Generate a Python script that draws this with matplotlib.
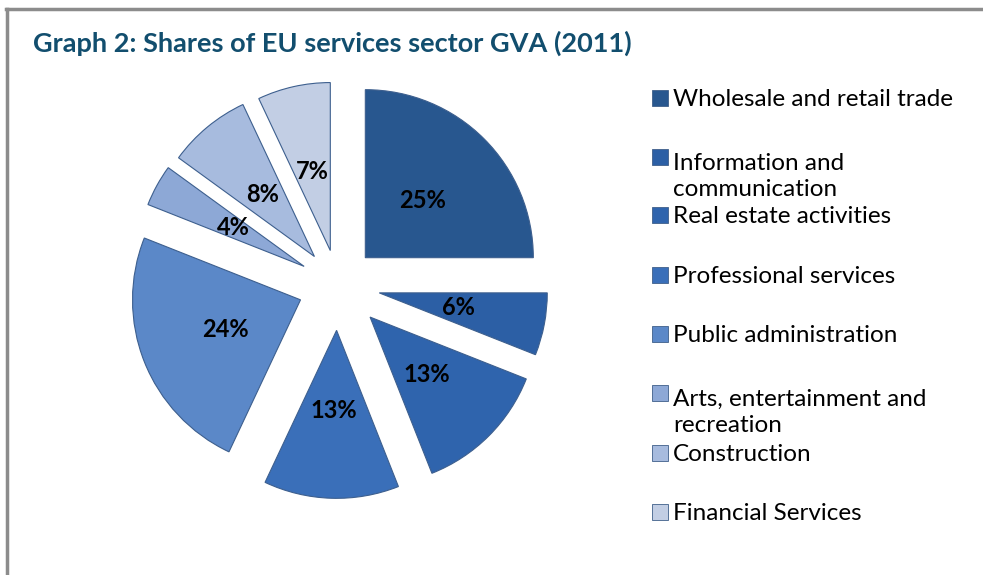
import matplotlib
matplotlib.use("Agg")
import matplotlib.pyplot as plt
from matplotlib.patches import Rectangle
from matplotlib.lines import Line2D

categories = ["Wholesale and retail trade", "Information and\ncommunication",
              "Real estate activities", "Professional services",
              "Public administration", "Arts, entertainment and\nrecreation",
              "Construction", "Financial Services"]
shares = [25, 6, 13, 13, 24, 4, 8, 7]
colors = ["#28578F", "#2C5FA5", "#2F64AD", "#3A6FB9", "#5B88C8", "#8DA8D6", "#A7BBDE", "#C2CEE4"]
explode_frac = [0.23, 0.25, 0.27, 0.27, 0.24, 0.23, 0.22, 0.21]

W, H = 983, 575
fig = plt.figure(figsize=(W / 100, H / 100), dpi=100)
ax = fig.add_axes([0, 0, 1, 1])

R = 168
cx, cy = 338, H - 285
wedges, texts, autotexts = ax.pie(
    shares, colors=colors, explode=[e * R for e in explode_frac], startangle=90,
    counterclock=False, radius=R, center=(cx, cy), frame=True, autopct="%d%%",
    pctdistance=0.48,
    wedgeprops=dict(edgecolor="#3D5F8E", linewidth=0.8),
    textprops=dict(fontsize=17, fontweight="bold", color="black", family="Lato"))
ax.set_xlim(0, W)
ax.set_ylim(0, H)
ax.set_aspect("equal")
ax.axis("off")

# frame lines (top and left)
ax.add_line(Line2D([6, W], [H - 9, H - 9], color="#8C8C8C", lw=2.5))
ax.add_line(Line2D([7, 7], [0, H - 9], color="#8C8C8C", lw=2.5))

# title
ax.text(33, H - 52, "Graph 2: Shares of EU services sector GVA (2011)",
        fontsize=19.5, fontweight="bold", color="#124E6E",
        family=["Liberation Sans Narrow", "DejaVu Sans Condensed", "Lato"],
        va="baseline", ha="left")

# legend
ys = [98, 157, 215, 275, 334, 393, 453, 512]
line_px = 1.27 * 17.5 * 100 / 72
for y, lab, col in zip(ys, categories, colors):
    ax.add_patch(Rectangle((652, H - y - 8), 16, 16, facecolor=col,
                           edgecolor="#3F5F8A", lw=0.6))
    n_extra = lab.count("\n")
    ax.text(673, H - y - 8 - n_extra * line_px, lab, fontsize=17.5, family="Lato",
            color="black", va="baseline", ha="left", linespacing=1.27)

fig.savefig("out.png", dpi=100)
